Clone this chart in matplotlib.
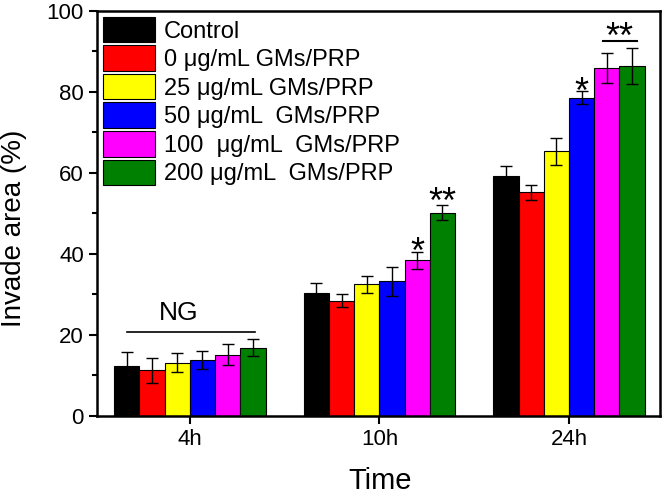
import matplotlib
matplotlib.use("Agg")
import matplotlib.pyplot as plt
import numpy as np

plt.rcParams['font.family'] = ['Liberation Sans', 'DejaVu Sans']

times = ["4h", "10h", "24h"]
groups = ["Control", "0 μg/mL GMs/PRP", "25 μg/mL GMs/PRP", "50 μg/mL  GMs/PRP",
          "100  μg/mL  GMs/PRP", "200 μg/mL  GMs/PRP"]
colors = ["#000000", "#ff0000", "#ffff00", "#0000ff", "#ff00ff", "#008000"]

values = {
    "Control": [12.3, 30.3, 59.3],
    "0": [11.3, 28.4, 55.2],
    "25": [13.2, 32.5, 65.3],
    "50": [13.8, 33.3, 78.6],
    "100": [15.1, 38.5, 86.0],
    "200": [16.9, 50.2, 86.4],
}
errors = {
    "Control": [3.6, 2.5, 2.4],
    "0": [3.1, 1.6, 1.8],
    "25": [2.3, 2.1, 3.3],
    "50": [2.2, 3.6, 1.6],
    "100": [2.6, 2.1, 3.7],
    "200": [2.2, 1.9, 4.5],
}
keys = ["Control", "0", "25", "50", "100", "200"]

fig = plt.figure(figsize=(6.67, 4.97), dpi=100)
ax = fig.add_axes([0.1454, 0.163, 0.8441, 0.815])

x = np.arange(1, len(times) + 1)
w = 0.133
for i, (k, lab, c) in enumerate(zip(keys, groups, colors)):
    pos = x + (i - 2.5) * w
    ax.bar(pos, values[k], w, color=c, edgecolor="black", linewidth=0.8, label=lab,
           yerr=errors[k], error_kw=dict(ecolor="black", elinewidth=1, capsize=4, capthick=1))

# annotations
ax.plot([1 - 2.5 * w, 1 + 2.6 * w], [20.7, 20.7], color="black", lw=1.2)
ax.text(0.942, 23.7, "NG", ha="center", va="baseline", fontsize=19)
ax.text(2 + 1.5 * w, 37.8, "*", ha="center", va="baseline", fontsize=26)
ax.text(2 + 2.5 * w, 50.2, "**", ha="center", va="baseline", fontsize=26)
ax.text(3 + 0.5 * w, 77.3, "*", ha="center", va="baseline", fontsize=26)
ax.plot([3 + 1.35 * w, 3 + 2.7 * w], [92.6, 92.6], color="black", lw=1.5)
ax.text(3 + 2.0 * w, 90.8, "**", ha="center", va="baseline", fontsize=26)

ax.set_xlim(0.51, 3.48)
ax.set_ylim(0, 100)
ax.set_xticks(x)
ax.set_xticklabels(times)
ax.set_yticks(np.arange(0, 101, 20))
ax.set_yticks(np.arange(10, 100, 20), minor=True)
ax.tick_params(axis="both", which="major", direction="out", length=6, width=1.5, labelsize=16)
ax.tick_params(axis="y", which="minor", direction="out", length=3.5, width=1.5)
for s in ax.spines.values():
    s.set_linewidth(1.8)

ax.set_xlabel("Time", fontsize=21)
ax.set_ylabel("Invade area (%)", fontsize=20)
ax.xaxis.set_label_coords(0.503, -0.126)
ax.yaxis.set_label_coords(-0.124, 0.464)

leg = ax.legend(loc="upper left", frameon=False, fontsize=17, handlelength=2.2,
                handleheight=1.29, labelspacing=0.12, handletextpad=0.38,
                borderaxespad=0.1, borderpad=0.15)

fig.savefig("out.png", dpi=100)
